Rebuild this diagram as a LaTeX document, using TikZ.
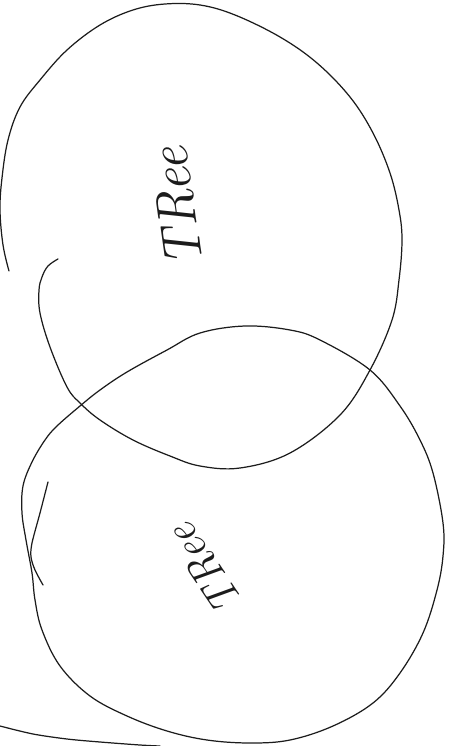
\documentclass[tikz,border=0pt]{standalone}
\usepackage{fontspec}
\usepackage{xcolor}
\usepackage{tikz}
\usetikzlibrary{positioning}
\definecolor{skInk}{HTML}{1C1C1C}

\begin{document}
\begin{tikzpicture}[
  x=0.02cm, y=-0.02cm,
  inkline/.style={draw=skInk, line width=0.7pt, line cap=round, line join=round},
  treetext/.style={text=skInk, inner sep=0pt, font=\itshape\fontsize{31}{31}\selectfont},
  treesmall/.style={text=skInk, inner sep=0pt, font=\itshape\fontsize{25}{25}\selectfont}
]
  \useasboundingbox (0,0) rectangle (450,746);

  % upper loop, drawn as one curling stroke
  \draw[inkline] plot[smooth, tension=0.6] coordinates {
    (9,271) (3,245) (0,210) (2,178) (8,140) (20,107) (40,80) (67,50)
    (100,25) (133,10) (165,4) (200,5) (235,15) (280,37) (317,63) (350,97)
    (373,133) (390,173) (399,210) (402,240) (399,280) (392,320) (370,370)
    (340,415) (290,453) (240,468) (200,466) (170,456) (133,440) (100,420)
    (80,403) (67,387) (50,347) (40,313) (39,290) (42,277) (48,266) (58,259)};

  % lower loop
  \draw[inkline] plot[smooth cycle, tension=0.6] coordinates {
    (45,440) (32,462) (23,486) (22,513) (26,540) (32,573) (35,600) (42,630)
    (60,666) (90,696) (127,716) (167,731) (207,740) (250,743) (290,740)
    (333,726) (373,703) (400,673) (423,633) (437,590) (443,556) (443,523)
    (433,473) (420,440) (400,406) (370,370) (320,340) (290,330) (245,326)
    (200,333) (167,350) (127,372) (100,390) (80,406) (57,426)};

  % short stroke across the lower loop
  \draw[inkline] plot[smooth] coordinates {
    (48,482) (40,513) (32,543) (31,557) (35,570) (43,585)};

  % line at the bottom left
  \draw[inkline] plot[smooth] coordinates {
    (0,726) (33,734) (67,739) (100,742) (140,745) (160,746)};

  \node[treetext, rotate=98] (treeA) at (177,207) {TRee};
  \node[treesmall, rotate=124] (treeB) at (205,569) {TRee};
\end{tikzpicture}
\end{document}
